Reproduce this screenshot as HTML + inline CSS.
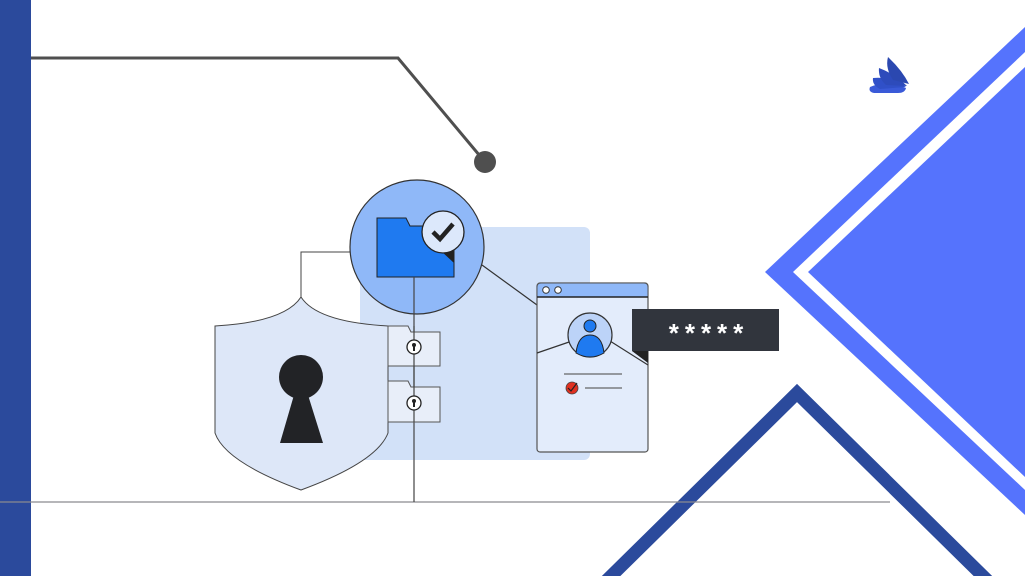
<!DOCTYPE html>
<html><head><meta charset="utf-8"><style>
html,body{margin:0;padding:0;background:#fff;width:1025px;height:576px;overflow:hidden}
svg{display:block}
</style></head><body>
<svg width="1025" height="576" viewBox="0 0 1025 576" xmlns="http://www.w3.org/2000/svg">
<rect width="1025" height="576" fill="#fff"/>
<polygon points="1025,27 765,272 1025,515" fill="#5573fd"/>
<polygon points="1025,52 793,272 1025,490" fill="#fff"/>
<polygon points="1025,67 808,272 1025,477" fill="#5573fd"/>
<polyline points="604,583 797,393 990,583" fill="none" stroke="#2b4a9c" stroke-width="13" stroke-linejoin="miter"/>
<rect x="0" y="0" width="31" height="576" fill="#2b4a9c"/>
<line x1="0" y1="502" x2="890" y2="502" stroke="#8a8a8f" stroke-width="1.2"/>
<polyline points="31,58 398,58 485,162" fill="none" stroke="#4f4f4f" stroke-width="3"/>
<circle cx="485" cy="162" r="11" fill="#4f4f4f"/>
<g>
<path d="M870,87 Q885,80 906,88 Q905,93 898,93 L874,93 Q868,92 870,87Z" fill="#3a5ad8"/>
<path d="M873,78 Q890,76 906,87 L880,89 Q872,85 873,78Z" fill="#3050c8"/>
<path d="M879,68 Q895,74 907,86 L886,85 Q878,78 879,68Z" fill="#2d4bbb"/>
<path d="M888,57 Q902,70 909,84 L893,80 Q885,68 888,57Z" fill="#2b48b0"/>
</g>
<rect x="360" y="227" width="230" height="233" rx="6" fill="#d2e1f8"/>
<polyline points="352,252 301,252 301,297" fill="none" stroke="#444" stroke-width="1"/>
<line x1="482" y1="265" x2="537" y2="305" stroke="#333" stroke-width="1.2"/>
<line x1="414" y1="277" x2="414" y2="502" stroke="#444" stroke-width="1.2"/>
<path d="M301,297 Q285,322 215,326 L215,433 Q225,462 301,490 Q377,462 388,433 L388,326 Q317,322 301,297Z" fill="#dde7f8" stroke="#444" stroke-width="1"/>
<circle cx="301" cy="377" r="22" fill="#222326"/>
<polygon points="294,395 308,395 323,443 280,443" fill="#222326"/>
<g fill="#e8eef9" stroke="#555" stroke-width="1">
<path d="M388,326 L408,326 L411,332 L440,332 L440,366 L388,366Z"/>
<path d="M388,381 L408,381 L411,387 L440,387 L440,422 L388,422Z"/>
</g>
<line x1="414" y1="326" x2="414" y2="422" stroke="#444" stroke-width="1.2"/>
<g>
<circle cx="414" cy="347" r="7" fill="#fff" stroke="#222" stroke-width="1.3"/>
<circle cx="414" cy="345" r="2" fill="#222"/><rect x="413" y="345" width="2" height="6" fill="#222"/>
<circle cx="414" cy="403" r="7" fill="#fff" stroke="#222" stroke-width="1.3"/>
<circle cx="414" cy="401" r="2" fill="#222"/><rect x="413" y="401" width="2" height="6" fill="#222"/>
</g>
<circle cx="417" cy="247" r="67" fill="#8fb8f8" stroke="#333" stroke-width="1.2"/>
<path d="M377,218 L406,218 L410,226 L454,226 L454,277 L377,277Z" fill="#1f7af0" stroke="#222" stroke-width="1"/>
<line x1="414" y1="277" x2="414" y2="314" stroke="#444" stroke-width="1.2"/>
<polygon points="440,250 454,250 454,263" fill="#222"/>
<circle cx="443" cy="232" r="21" fill="#dce8fb" stroke="#222" stroke-width="1.3"/>
<polyline points="433,232 440,239 453,224" fill="none" stroke="#222" stroke-width="4.5"/>
<rect x="537" y="283" width="111" height="169" rx="3" fill="#e3ecfb" stroke="#555" stroke-width="1.2"/>
<path d="M537,297 L537,287 Q537,283 541,283 L644,283 Q648,283 648,287 L648,297Z" fill="#8fb8f8" stroke="#555" stroke-width="1"/>
<line x1="537" y1="297" x2="648" y2="297" stroke="#222" stroke-width="1.5"/>
<circle cx="546" cy="290" r="3.3" fill="#fff" stroke="#333" stroke-width="1"/>
<circle cx="558" cy="290" r="3.3" fill="#fff" stroke="#333" stroke-width="1"/>
<polyline points="537,353 572,341" fill="none" stroke="#333" stroke-width="1.2"/>
<polyline points="610,341 648,365" fill="none" stroke="#333" stroke-width="1.2"/>
<circle cx="590" cy="335" r="22" fill="#bcd3f8" stroke="#333" stroke-width="1.2"/>
<circle cx="590" cy="326" r="6" fill="#1f7af0" stroke="#222" stroke-width="1"/>
<path d="M576,353 Q578,335 590,335 Q602,335 604,353 Q597,357 590,357 Q583,357 576,353Z" fill="#1f7af0" stroke="#222" stroke-width="1"/>
<line x1="564" y1="374" x2="622" y2="374" stroke="#666" stroke-width="1.2"/>
<line x1="585" y1="388" x2="622" y2="388" stroke="#666" stroke-width="1.2"/>
<circle cx="572" cy="388" r="6" fill="#e03020" stroke="#444" stroke-width="0.8"/>
<polyline points="568,388 571,391 577,383" fill="none" stroke="#222" stroke-width="1.2"/>
<polygon points="632,351 648,351 648,363" fill="#222"/>
<rect x="632" y="309" width="147" height="42" fill="#31353d"/>
<text x="709" y="342" text-anchor="middle" font-family="Liberation Sans, sans-serif" font-weight="bold" font-size="26" fill="#fff" letter-spacing="6">*****</text>
</svg>
</body></html>
